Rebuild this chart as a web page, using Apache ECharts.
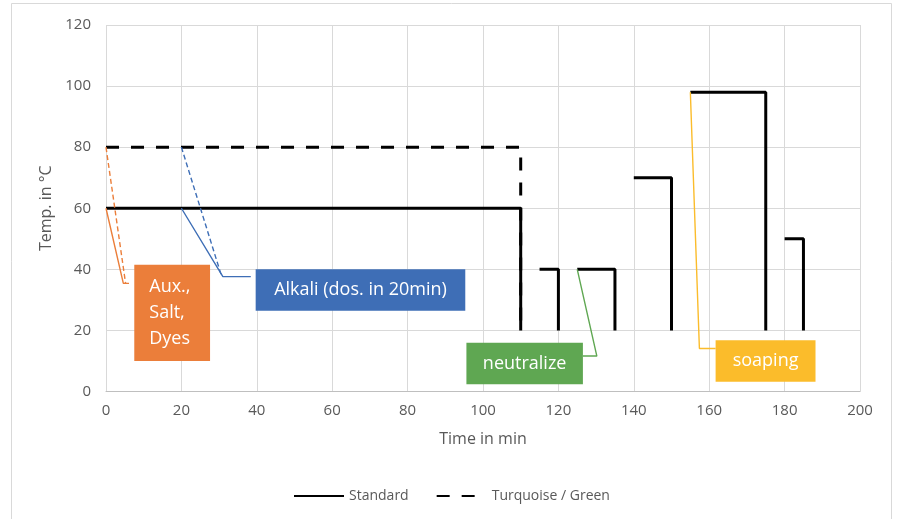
<!DOCTYPE html>
<html>
<head>
<meta charset="utf-8">
<script src="https://cdn.jsdelivr.net/npm/echarts@6/dist/echarts.min.js"></script>
<style>
html,body{margin:0;padding:0;background:#fff;}
#chart{width:898px;height:519px;}
</style>
</head>
<body>
<div id="chart"></div>
<script>
// ---- axes ----
const xMin = 0, xMax = 200, xInterval = 20;
const yMin = 0, yMax = 120, yInterval = 20;
const xTickLabels = [0, 20, 40, 60, 80, 100, 120, 140, 160, 180, 200];
const yTickLabels = [0, 20, 40, 60, 80, 100, 120];
const xAxisTitle = 'Time in min';
const yAxisTitle = 'Temp. in °C';

// ---- series (time in min, temperature in °C) ----
const standardName = 'Standard';
const standardSeg1 = [[0, 60], [110, 60], [110, 20]];
const standardSeg2 = [[115, 40], [120, 40], [120, 20]];
const standardSeg3 = [[125, 40], [135, 40], [135, 20]];
const standardSeg4 = [[140, 70], [150, 70], [150, 20]];
const standardSeg5 = [[155, 98], [175, 98], [175, 20]];
const standardSeg6 = [[180, 50], [185, 50], [185, 20]];
const turquoiseName = 'Turquoise / Green';
const turquoiseSeg = [[0, 80], [110, 80], [110, 20]];

// ---- callouts (data coords) ----
const calloutTexts = ['Aux.,\nSalt,\nDyes', 'Alkali (dos. in 20min)', 'neutralize', 'soaping'];
const calloutColors = ['#EB7E3A', '#3E6EB6', '#5FA752', '#FBBC2B'];
const calloutBoxes = [ // [xLeft, xRight, yTop, yBottom]
  [7.5, 27.6, 41.5, 10.0],
  [39.7, 95.3, 40.0, 26.4],
  [95.6, 126.5, 16.0, 2.4],
  [161.7, 188.2, 16.8, 3.2]
];
const leaderOrangeSolid = [[0, 60], [4.6, 35.4], [6.1, 35.4]];
const leaderOrangeDashed = [[0, 80], [5.2, 35.4]];
const leaderBlueSolid = [[20, 60], [31.0, 37.6], [38.4, 37.6]];
const leaderBlueDashed = [[20, 80], [30.7, 37.6]];
const leaderGreen = [[125, 40], [130.2, 11.6], [126.5, 11.6]];
const leaderYellow = [[155, 98], [157.4, 14.1], [161.7, 14.1]];

const FONT = '"Open Sans", "Noto Sans", sans-serif';
const TXT = '#595959';
const GRID = '#D9D9D9';

const chart = echarts.init(document.getElementById('chart'), null, {renderer: 'canvas'});

function blackLine(name, data, dashed) {
  return {
    name: name, type: 'line', data: data, symbol: 'none', showSymbol: false, silent: true,
    lineStyle: {color: '#000', width: 3, type: dashed ? [13, 12] : 'solid', cap: 'butt'},
    itemStyle: {color: '#000'}, z: dashed ? 2 : 3
  };
}
function leader(data, color, dashed) {
  return {
    type: 'line', data: data, symbol: 'none', silent: true,
    lineStyle: {color: color, width: 1.4, type: dashed ? [5, 3] : 'solid'},
    z: 4
  };
}

const option = {
  animation: false,
  backgroundColor: '#fff',
  textStyle: {fontFamily: FONT},
  grid: {left: 106, right: 38, top: 25, bottom: 127.5, containLabel: false},
  xAxis: {
    type: 'value', min: xMin, max: xMax, interval: xInterval,
    name: xAxisTitle, nameLocation: 'middle', nameGap: 40,
    nameTextStyle: {color: TXT, fontSize: 16, fontFamily: FONT},
    axisLine: {show: true, lineStyle: {color: '#BFBFBF', width: 1}},
    axisTick: {show: false},
    axisLabel: {color: TXT, fontSize: 15, margin: 12, fontFamily: FONT,
      formatter: v => xTickLabels.includes(v) ? String(v) : ''},
    splitLine: {show: true, lineStyle: {color: GRID, width: 1}}
  },
  yAxis: {
    type: 'value', min: yMin, max: yMax, interval: yInterval,
    name: yAxisTitle, nameLocation: 'middle', nameGap: 51, nameRotate: 90,
    nameTextStyle: {color: TXT, fontSize: 16, fontFamily: FONT},
    axisLine: {show: false}, axisTick: {show: false},
    axisLabel: {color: TXT, fontSize: 15, margin: 15, fontFamily: FONT,
      formatter: v => yTickLabels.includes(v) ? String(v) : ''},
    splitLine: {show: true, lineStyle: {color: GRID, width: 1}}
  },
  legend: {
    data: [standardName, turquoiseName],
    left: 288, top: 484, itemWidth: 50, itemHeight: 14, itemGap: 27,
    itemStyle: {opacity: 0},
    textStyle: {color: TXT, fontSize: 14, fontFamily: FONT},
    selectedMode: false
  },
  graphic: [{
    type: 'rect', shape: {x: 11.5, y: 3.5, width: 880, height: 530},
    style: {fill: 'none', stroke: '#D9D9D9', lineWidth: 1}, silent: true, z: -10
  }],
  series: [
    blackLine(turquoiseName, turquoiseSeg, true),
    blackLine(standardName, standardSeg1, false),
    blackLine(standardName, standardSeg2, false),
    blackLine(standardName, standardSeg3, false),
    blackLine(standardName, standardSeg4, false),
    blackLine(standardName, standardSeg5, false),
    blackLine(standardName, standardSeg6, false),
    leader(leaderOrangeSolid, calloutColors[0], false),
    leader(leaderOrangeDashed, calloutColors[0], true),
    leader(leaderBlueSolid, calloutColors[1], false),
    leader(leaderBlueDashed, calloutColors[1], true),
    leader(leaderGreen, calloutColors[2], false),
    leader(leaderYellow, calloutColors[3], false),
    {
      type: 'custom', silent: true, z: 5,
      data: calloutBoxes,
      encode: {x: [0, 1], y: [2, 3]},
      renderItem: function (params, api) {
        const i = params.dataIndex;
        const p1 = api.coord([api.value(0), api.value(2)]);
        const p2 = api.coord([api.value(1), api.value(3)]);
        const w = p2[0] - p1[0], h = p2[1] - p1[1];
        const leftAligned = i === 0;
        return {
          type: 'group',
          children: [
            {type: 'rect', shape: {x: p1[0], y: p1[1], width: w, height: h},
              style: {fill: calloutColors[i], stroke: 'none'}},
            {type: 'text',
              style: {
                text: calloutTexts[i],
                x: leftAligned ? p1[0] + 15 : p1[0] + w / 2,
                y: p1[1] + h / 2,
                align: leftAligned ? 'left' : 'center',
                verticalAlign: 'middle',
                fill: '#fff', fontSize: 18, fontFamily: FONT, lineHeight: 26
              }}
          ]
        };
      }
    }
  ]
};
chart.setOption(option);
</script>
</body>
</html>
